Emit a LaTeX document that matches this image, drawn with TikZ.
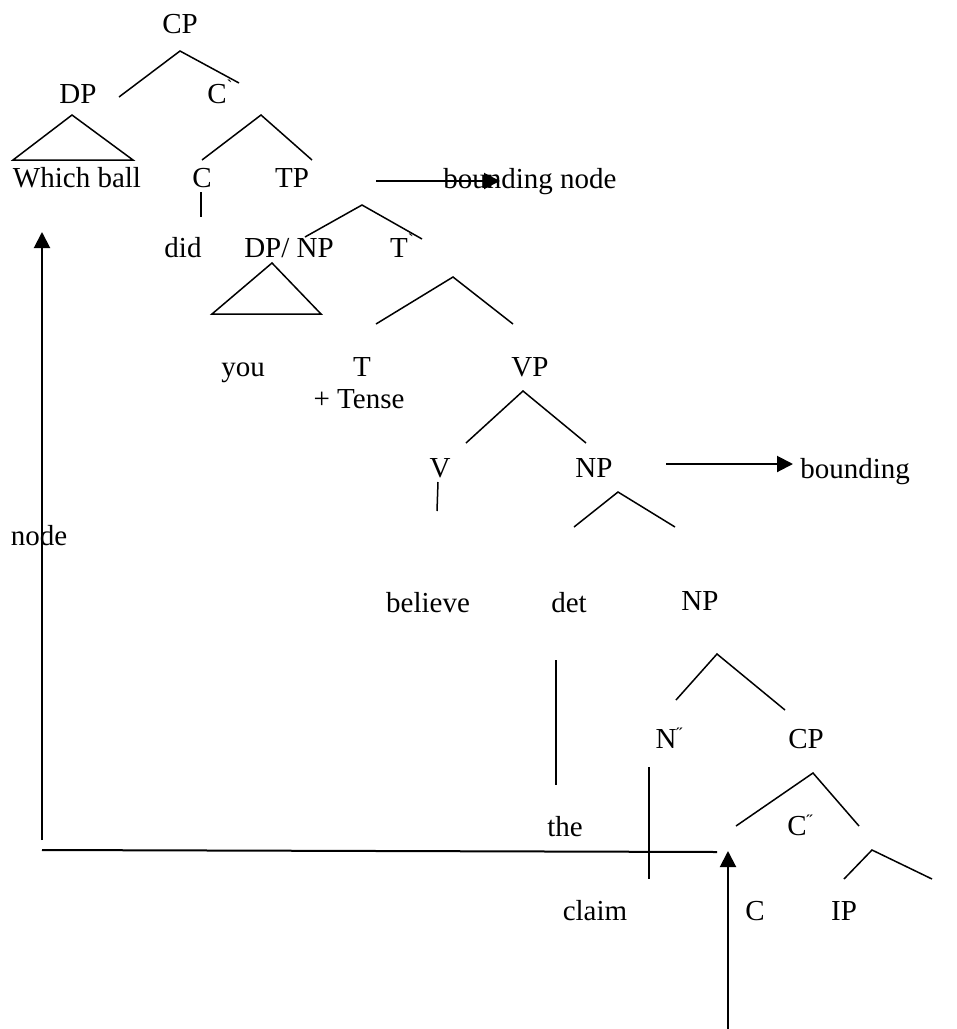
\documentclass[tikz,border=0pt]{standalone}
\usepackage{fontspec}
\setmainfont{Liberation Serif}
\usetikzlibrary{arrows.meta}
\newcommand{\bartick}{\raisebox{0.8ex}{\small\textasciigrave}}
\newcommand{\dbltick}{\raisebox{0.6ex}{\small ˝}}
\tikzset{
  lbl/.style={inner sep=0pt, yshift=-2.5pt, font=\fontsize{14.5pt}{17pt}\selectfont, text height=1.45ex, text depth=0.25ex},
  branch/.style={line width=0.75pt},
  move/.style={line width=1pt, ->}
}
\begin{document}
\begin{tikzpicture}[x=0.5pt, y=-0.5pt, >={Triangle[length=8pt, width=8pt]}]
\useasboundingbox (0,0) rectangle (957,1029);
% top of the tree
\node[lbl] (cptop) at (180,23) {CP};
\node[lbl] (dp) at (78,93) {DP};
\node[lbl] (cbar) at (220,93) {C\bartick};
\draw[branch] (119,97) -- (180,51) -- (239,83);
\node[lbl] (which) at (77,177) {Which ball};
\draw[branch] (72,115) -- (13,160) -- (133,160) -- cycle;
\node[lbl] (c) at (202,177) {C};
\node[lbl] (tp) at (292,177) {TP};
\draw[branch] (202,160) -- (261,115) -- (312,160);
\node[lbl] (did) at (183,247) {did};
\draw[branch] (201,192) -- (201,217);
% TP
\node[lbl] (dpnp) at (289,247) {DP/ NP};
\node[lbl] (tbar) at (402,247) {T\bartick};
\draw[branch] (305,237) -- (362,205) -- (422,239);
\node[lbl] (you) at (243,366) {you};
\draw[branch] (272,263) -- (212,314) -- (321,314) -- cycle;
\node[lbl] (t) at (362,366) {T};
\node[lbl] (tense) at (359,398) {+ Tense};
\node[lbl] (vp) at (530,366) {VP};
\draw[branch] (376,324) -- (453,277) -- (513,324);
% VP
\node[lbl] (v) at (440,467) {V};
\node[lbl] (np) at (594,467) {NP};
\draw[branch] (466,443) -- (523,391) -- (586,443);
\node[lbl] (believe) at (428,602) {believe};
\draw[branch] (438,482) -- (437,511);
\node[lbl] (det) at (569,602) {det};
\node[lbl] (nplow) at (700,600) {NP};
\draw[branch] (574,527) -- (618,492) -- (675,527);
\node[lbl] (the) at (565,826) {the};
\draw[branch] (556,660) -- (556,785);
% lower NP
\node[lbl] (nbar) at (669,738) {N\dbltick};
\node[lbl] (cplow) at (806,738) {CP};
\draw[branch] (676,700) -- (717,654) -- (785,710);
\node[lbl] (claim) at (595,910) {claim};
\draw[branch] (649,767) -- (649,879);
\node[lbl] (cbarlow) at (800,825) {C\dbltick};
\draw[branch] (736,826) -- (813,773) -- (859,826);
\node[lbl] (clow) at (755,910) {C};
\node[lbl] (ip) at (844,910) {IP};
\draw[branch] (844,879) -- (872,850) -- (932,879);
% bounding nodes
\node[lbl, anchor=west] (bnd1) at (443,178) {bounding node};
\node[lbl, anchor=west] (bnd2) at (800,468) {bounding};
\coordinate (a1) at (376,181);
\coordinate (a1e) at (500,181);
\coordinate (a2) at (666,464);
\coordinate (a2e) at (793,464);
\draw[move] (a1) -- (a1e);
\draw[move] (a2) -- (a2e);
% movement
\node[lbl] (nodetxt) at (39,535) {node};
\coordinate (m0) at (728,1029);
\coordinate (m1) at (728,851);
\coordinate (h0) at (717,852);
\coordinate (h1) at (42,850);
\coordinate (up0) at (42,840);
\coordinate (up1) at (42,232);
\draw[move] (m0) -- (m1);
\draw[line width=1pt] (h0) -- (h1);
\draw[move] (up0) -- (up1);
\end{tikzpicture}
\end{document}
